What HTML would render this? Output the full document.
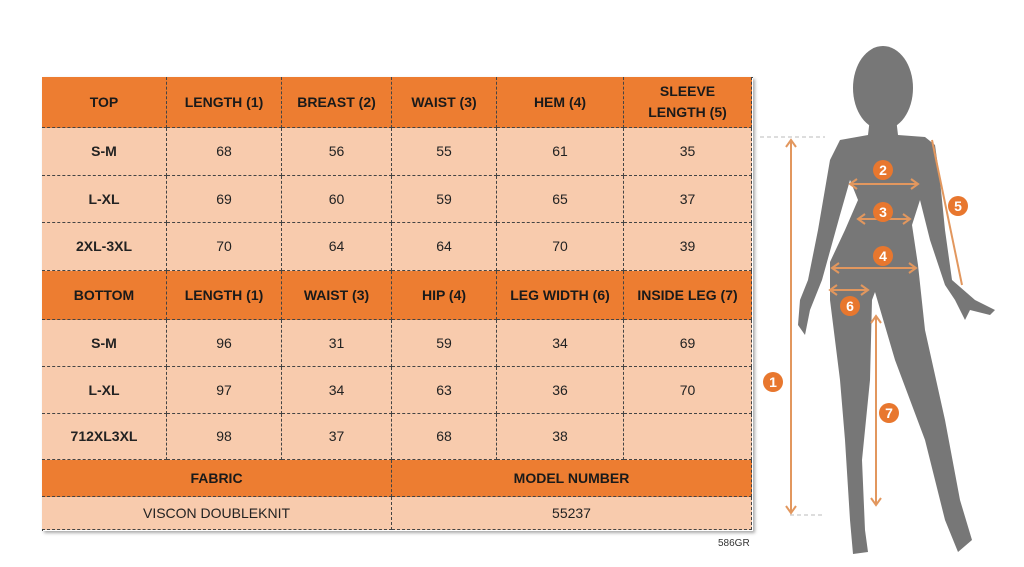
<!DOCTYPE html>
<html><head><meta charset="utf-8"><style>
body{margin:0;width:1024px;height:567px;background:#fff;position:relative;overflow:hidden;font-family:"Liberation Sans",sans-serif}
.c{position:absolute;box-sizing:border-box;display:flex;align-items:center;justify-content:center;text-align:center;border-right:1px dashed #444;border-bottom:1px dashed #444;color:#222;font-size:14px;line-height:21px}
.h{background:#ED7D31;font-weight:bold;color:#1a1a1a}
.l{background:#F8CBAD}
.b{font-weight:bold}
#tbl{position:absolute;left:42px;top:77px;width:710px;height:453px;border-left:1px dashed #444;border-top:1px dashed #444;box-shadow:2px 2px 3px #aaa}
</style></head><body>
<div id="tbl"></div>
<div id="cells"></div>
<div style="position:absolute;left:718px;top:538px;font-size:10px;color:#333">586GR</div>
<svg width="1024" height="567" style="position:absolute;left:0;top:0">
<ellipse cx="883" cy="88" rx="30" ry="42" fill="#777"/>
<path fill="#777" d="M870,118 L896,118 L898,135 L925,137 L935,145 L940,180 L945,230 L952,280 L975,300 L995,310 L990,315 L970,310 L965,320 L955,300 L945,285 L930,240 L920,200 L912,225 L918,265 L925,330 L945,420 L960,500 L972,540 L958,552 L945,520 L925,440 L895,360 L875,292 L872,300 L870,380 L862,460 L865,530 L868,552 L853,554 L850,520 L845,440 L840,380 L830,300 L830,262 L845,230 L858,200 L850,180 L840,215 L822,280 L810,310 L805,335 L798,325 L800,300 L808,280 L818,230 L830,160 L840,140 L868,135 Z"/>
<g stroke="#bbb" stroke-dasharray="4,3" stroke-width="1"><line x1="760" y1="137" x2="825" y2="137"/><line x1="790" y1="515" x2="825" y2="515"/></g>
<g stroke="#E2975E" stroke-width="2" fill="none">
<line x1="791" y1="140" x2="791" y2="513"/><polyline points="786,147 791,140 796,147"/><polyline points="786,506 791,513 796,506"/>
<line x1="850" y1="184" x2="918" y2="184"/><polyline points="857,179 850,184 857,189"/><polyline points="911,179 918,184 911,189"/>
<line x1="858" y1="219" x2="910" y2="219"/><polyline points="865,214 858,219 865,224"/><polyline points="903,214 910,219 903,224"/>
<line x1="832" y1="268" x2="916" y2="268"/><polyline points="839,263 832,268 839,273"/><polyline points="909,263 916,268 909,273"/>
<line x1="932" y1="140" x2="962" y2="285"/>
<line x1="830" y1="290" x2="868" y2="290"/><polyline points="837,285 830,290 837,295"/><polyline points="861,285 868,290 861,295"/>
<line x1="876" y1="316" x2="876" y2="505"/><polyline points="871,323 876,316 881,323"/><polyline points="871,498 876,505 881,498"/>
</g>
<g fill="#E8772E">
<circle cx="883" cy="170" r="10"/><circle cx="883" cy="212" r="10"/><circle cx="883" cy="256" r="10"/><circle cx="958" cy="206" r="10"/><circle cx="850" cy="306" r="10"/><circle cx="773" cy="382" r="10"/><circle cx="889" cy="413" r="10"/>
</g>
<g fill="#fff" font-family="Liberation Sans" font-size="14" font-weight="bold" text-anchor="middle">
<text x="883" y="175">2</text><text x="883" y="217">3</text><text x="883" y="261">4</text><text x="958" y="211">5</text><text x="850" y="311">6</text><text x="773" y="387">1</text><text x="889" y="418">7</text>
</g>
</svg>
<script>
var xs=[42,167,282,392,497,624,752];
var rows=[
[77,128,'h',['TOP','LENGTH (1)','BREAST (2)','WAIST (3)','HEM (4)','SLEEVE<br>LENGTH (5)']],
[128,176,'l',['S-M','68','56','55','61','35']],
[176,223,'l',['L-XL','69','60','59','65','37']],
[223,271,'l',['2XL-3XL','70','64','64','70','39']],
[271,320,'h',['BOTTOM','LENGTH (1)','WAIST (3)','HIP (4)','LEG WIDTH (6)','INSIDE LEG (7)']],
[320,367,'l',['S-M','96','31','59','34','69']],
[367,414,'l',['L-XL','97','34','63','36','70']],
[414,460,'l',['712XL3XL','98','37','68','38','']]];
var h='';
rows.forEach(function(r){for(var i=0;i<6;i++){h+='<div class="c '+r[2]+(i==0?' b':'')+'" style="left:'+xs[i]+'px;top:'+r[0]+'px;width:'+(xs[i+1]-xs[i])+'px;height:'+(r[1]-r[0])+'px">'+r[3][i]+'</div>';}});
h+='<div class="c h" style="left:42px;top:460px;width:350px;height:37px">FABRIC</div>';
h+='<div class="c h" style="left:392px;top:460px;width:360px;height:37px">MODEL NUMBER</div>';
h+='<div class="c l" style="left:42px;top:497px;width:350px;height:33px">VISCON DOUBLEKNIT</div>';
h+='<div class="c l" style="left:392px;top:497px;width:360px;height:33px">55237</div>';
document.getElementById('cells').innerHTML=h;
</script>
</body></html>
